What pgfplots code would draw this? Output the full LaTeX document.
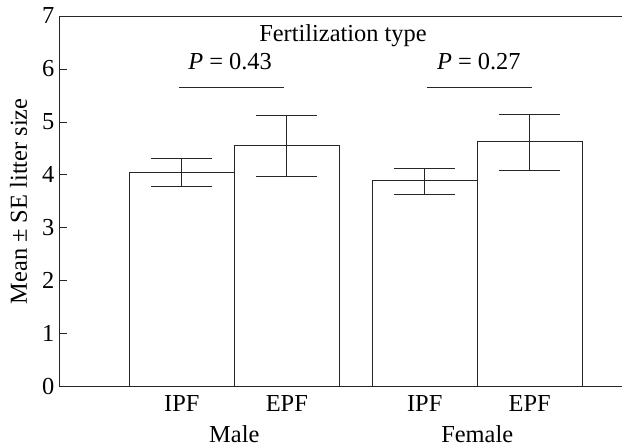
\documentclass[border=0pt]{standalone}
\usepackage{pgfplots}
\pgfplotsset{compat=1.18}
\usepackage{fontspec}
\setmainfont{Liberation Serif}
\begin{document}
\fontsize{24.5}{28}\selectfont
\begin{tikzpicture}
\begin{axis}[
  scale only axis, width=562bp, height=370.7bp,
  xmin=-0.165, xmax=5.188, ymin=0, ymax=7,
  axis x line=box, axis y line=left,
  axis line style={-, line width=0.8bp, black!85},
  every outer y axis line/.append style={-},
  every outer x axis line/.append style={-},
  ytick={0,1,2,3,4,5,6,7}, ytick pos=left,
  tick align=inside, major tick length=7bp,
  tick style={line width=0.8bp, black!85},
  xtick={1,2,3.314,4.314},
  xticklabels={IPF,EPF,IPF,EPF},
  xtick style={draw=none},
  xticklabel style={anchor=base, yshift=-25bp},
  yticklabel style={anchor=east, inner sep=0pt, xshift=-5bp},
  /pgf/number format/assume math mode=true,
  clip=false,
]
\addplot[ybar, bar width=1, fill=white, draw=black!85, line width=0.8bp,
  error bars/.cd, y dir=both, y explicit,
  error bar style={line width=0.8bp, black!85},
  error mark options={rotate=90, mark size=30.5bp, line width=0.8bp, black!85}]
coordinates {
  (1,4.04)     += (0,0.27) -= (0,0.25)
  (2,4.56)     += (0,0.56) -= (0,0.58)
  (3.314,3.89) += (0,0.23) -= (0,0.25)
  (4.314,4.63) += (0,0.52) -= (0,0.54)
};
\addplot[black!85, line width=0.8bp, mark=none] coordinates {(0.976,5.66) (1.97,5.66)};
\addplot[black!85, line width=0.8bp, mark=none] coordinates {(3.332,5.66) (4.332,5.66)};
\node[anchor=base] at (axis cs:2.535,6.514) {Fertilization type};
\node[anchor=base] at (axis cs:1.46,5.985) {\textit{P} = 0.43};
\node[anchor=base] at (axis cs:3.829,5.985) {\textit{P} = 0.27};
\node[anchor=base, yshift=-55.5bp] at (axis cs:1.5,0) {Male};
\node[anchor=base, yshift=-55.5bp] at (axis cs:3.814,0) {Female};
\node[rotate=90, anchor=base, inner sep=0pt] at (axis description cs:-0.058,0.5) {Mean ± SE litter size};
\end{axis}
\pgfresetboundingbox
\useasboundingbox ([shift={(-59.5bp,-59.3bp)}]current axis.south west) rectangle ([shift={(0.5bp,16bp)}]current axis.north east);
\end{tikzpicture}
\end{document}
